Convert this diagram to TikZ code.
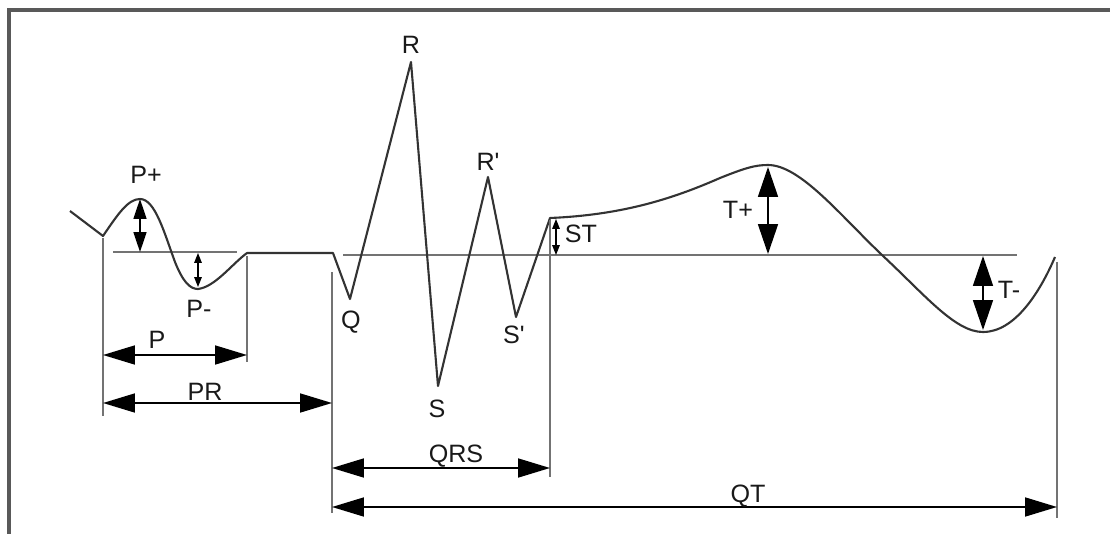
\documentclass[tikz,border=0pt]{standalone}
\usepackage{fontspec}
\setmainfont{Liberation Sans}
\usetikzlibrary{arrows.meta}

\begin{document}
\begin{tikzpicture}[
        x=0.02cm, y=-0.02cm,
        wave/.style={draw=black!80, line width=1.2pt, line join=round},
        guide/.style={draw=black!55, line width=0.8pt},
        frame/.style={draw=black!65, line width=1.8pt},
        lbl/.style={anchor=base, inner sep=0pt, text=black!90, font=\fontsize{14.3}{16}\selectfont},
        dim/.style={line width=1pt, {Triangle[length=0.64cm,width=0.38cm]}-{Triangle[length=0.64cm,width=0.38cm]}},
        amp/.style={line width=1pt, {Triangle[length=0.6cm,width=0.4cm]}-{Triangle[length=0.6cm,width=0.4cm]}},
        ampsmall/.style={line width=1pt, {Triangle[length=0.4cm,width=0.26cm]}-{Triangle[length=0.4cm,width=0.26cm]}},
        amptiny/.style={line width=0.8pt, {Triangle[length=0.2cm,width=0.15cm]}-{Triangle[length=0.2cm,width=0.15cm]}},
    ]
    \useasboundingbox (0,0) rectangle (1110,534);

    % Column x-positions of the guide lines
    \def\xP{103}   % P onset
    \def\xPe{247}  % P end
    \def\xQ{332}   % Q onset
    \def\xJ{550}   % J point
    \def\xTe{1057} % T end

    % ===== Frame =====
    \draw[frame] (9,534) -- (9,10) -- (1110,10);

    % ===== Isoelectric lines =====
    \draw[guide] (113,252) -- (237,252);
    \draw[guide] (343,255) -- (1017,255);

    % ===== Waveform points =====
    \coordinate (start) at (70,211);
    \coordinate (pon)   at (\xP,236);
    \coordinate (ppeak) at (140,199);
    \coordinate (pneg)  at (198,289);
    \coordinate (pend)  at (\xPe,253);
    \coordinate (qon)   at (333,253);
    \coordinate (q)     at (350,299);
    \coordinate (r)     at (411,62);
    \coordinate (s)     at (438,386);
    \coordinate (rr)    at (488,177);
    \coordinate (ss)    at (516,317);
    \coordinate (j)     at (\xJ,218);
    \coordinate (tpeak) at (768,165);
    \coordinate (tneg)  at (983,332);
    \coordinate (tend)  at (1055,257);

    % ===== Waveform =====
    \draw[wave] (start) -- (pon)
        .. controls (118,214) and (128,199) .. (ppeak)
        .. controls (155,199) and (164,232) .. (175,262)
        .. controls (183,282) and (190,289) .. (pneg)
        .. controls (215,287) and (232,264) .. (pend)
        -- (qon) -- (q) -- (r) -- (s) -- (rr) -- (ss) -- (j)
        .. controls (620,215) and (670,200) .. (720,178)
        .. controls (745,168) and (755,165) .. (tpeak)
        .. controls (800,165) and (840,215) .. (882,255)
        .. controls (925,295) and (955,332) .. (tneg)
        .. controls (1015,332) and (1040,292) .. (tend);

    % ===== Guide lines =====
    \draw[guide] (\xP,238) -- (\xP,416);
    \draw[guide] (\xPe,256) -- (\xPe,362);
    \draw[guide] (\xQ,272) -- (\xQ,513);
    \draw[guide] (\xJ,220) -- (\xJ,477);
    \draw[guide] (\xTe,262) -- (\xTe,518);

    % ===== Amplitude arrows =====
    \coordinate (ppb) at (140,252);
    \coordinate (pnb) at (198,253);
    \coordinate (stt) at (556,219);
    \coordinate (stb) at (556,255);
    \coordinate (tpt) at (768,167);
    \coordinate (tpb) at (768,254);
    \coordinate (tnt) at (983,256);
    \coordinate (tnb) at (983,330);
    \draw[ampsmall] (ppeak) -- (ppb);
    \draw[amptiny] (pnb) -- ([yshift=0.04cm]pneg);
    \draw[amptiny] (stt) -- (stb);
    \draw[amp] (tpt) -- (tpb);
    \draw[amp] (tnt) -- (tnb);

    % ===== Interval arrows =====
    \coordinate (pa)  at (\xP,355);   \coordinate (pb)  at (\xPe,355);
    \coordinate (pra) at (\xP,403);   \coordinate (prb) at (\xQ,403);
    \coordinate (qa)  at (\xQ,468);   \coordinate (qb)  at (\xJ,468);
    \coordinate (qta) at (\xQ,507);   \coordinate (qtb) at (\xTe,507);
    \draw[dim] (pa) -- (pb);
    \draw[dim] (pra) -- (prb);
    \draw[dim] (qa) -- (qb);
    \draw[dim] (qta) -- (qtb);

    % ===== Labels =====
    \node[lbl] (lPp) at (146,183) {P+};
    \node[lbl] (lPm) at (199,317) {P-};
    \node[lbl] (lQ)  at (351,328) {Q};
    \node[lbl] (lR)  at (411,53)  {R};
    \node[lbl] (lS)  at (437,417) {S};
    \node[lbl] (lRr) at (488,170) {R\textquotesingle};
    \node[lbl] (lSs) at (514,343) {S\textquotesingle};
    \node[lbl] (lST) at (581,242) {ST};
    \node[lbl] (lTp) at (738,218) {T+};
    \node[lbl] (lTm) at (1009,298) {T-};
    \node[lbl] (lP)  at (157,348) {P};
    \node[lbl] (lPR) at (205,400) {PR};
    \node[lbl] (lQRS) at (456,462) {QRS};
    \node[lbl] (lQT) at (748,502) {QT};

\end{tikzpicture}
\end{document}
